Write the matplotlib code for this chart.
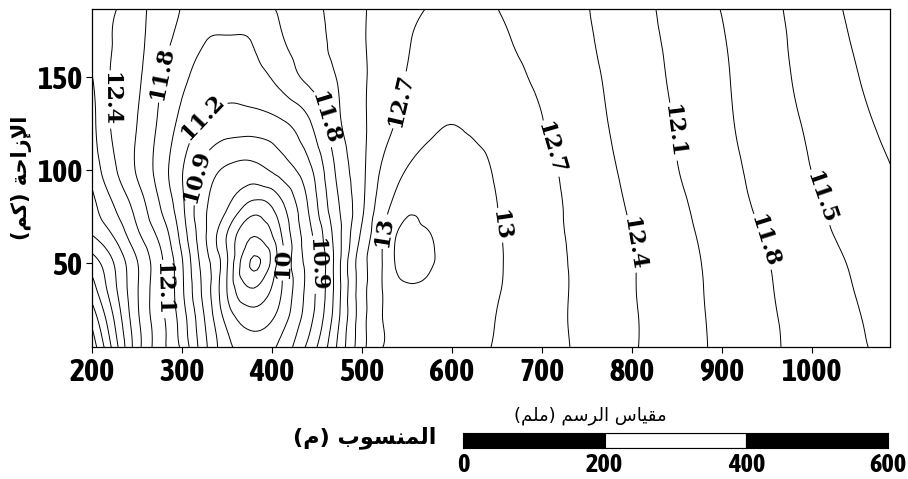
import numpy as np
import matplotlib
matplotlib.use("Agg")
import matplotlib.pyplot as plt
import matplotlib.tri as mtri

# ---------------- data ----------------
X_COLS = [200, 225, 250, 275, 300, 325, 350, 380, 410, 440, 470, 500, 525, 540,
          557, 575, 590, 625, 660, 700, 750, 800, 850, 900, 975, 1050, 1090]
Y_ROWS = [4, 20, 35, 50, 65, 80, 100, 125, 150, 170, 187]

Z_Y004 = [14.7, 13.77, 12.83, 12.23, 11.74, 10.99, 10.39, 10.22, 10.375, 10.98, 11.75, 12.6, 13.02, 13.08,
          13.1, 13.11, 13.12, 13.06, 12.94, 12.81, 12.63, 12.43, 12.23, 12.04, 11.77, 11.54, 11.42]
Z_Y020 = [14.4, 13.57, 12.77, 12.21, 11.65, 10.9, 10.2, 9.85, 10.14, 10.77, 11.62, 12.58, 13.02, 13.12,
          13.18, 13.17, 13.16, 13.08, 12.96, 12.81, 12.62, 12.43, 12.23, 12.03, 11.76, 11.52, 11.37]
Z_Y035 = [14.05, 13.38, 12.73, 12.18, 11.56, 10.8, 10.0, 9.45, 9.98, 10.7, 11.56, 12.58, 13.03, 13.2,
          13.26, 13.24, 13.2, 13.1, 12.98, 12.82, 12.62, 12.42, 12.22, 12.02, 11.74, 11.49, 11.35]
Z_Y050 = [13.75, 13.28, 12.72, 12.19, 11.53, 10.75, 10.03, 9.05, 9.9, 10.7, 11.56, 12.58, 13.05, 13.36,
          13.42, 13.33, 13.26, 13.12, 12.99, 12.82, 12.62, 12.42, 12.21, 12.01, 11.72, 11.46, 11.32]
Z_Y065 = [13.3, 12.96, 12.47, 12.03, 11.38, 10.65, 9.99, 9.42, 9.98, 10.78, 11.59, 12.46, 13.02, 13.33,
          13.38, 13.31, 13.22, 13.12, 12.98, 12.81, 12.6, 12.4, 12.19, 11.98, 11.68, 11.41, 11.27]
Z_Y080 = [13.1, 12.7, 12.29, 11.82, 11.27, 10.65, 10.32, 9.85, 10.2, 10.9, 11.69, 12.34, 12.92, 13.1,
          13.25, 13.22, 13.2, 13.1, 12.96, 12.8, 12.58, 12.37, 12.16, 11.94, 11.64, 11.37, 11.22]
Z_Y100 = [12.9, 12.44, 12.07, 11.68, 11.22, 10.8, 10.55, 10.5, 10.72, 11.1, 11.8, 12.33, 12.78, 12.94,
          13.05, 13.1, 13.12, 13.07, 12.93, 12.77, 12.55, 12.33, 12.11, 11.9, 11.59, 11.33, 11.2]
Z_Y125 = [12.8, 12.34, 12.1, 11.75, 11.41, 11.15, 11.05, 11.05, 11.15, 11.44, 11.98, 12.35, 12.61, 12.73,
          12.87, 12.95, 12.99, 12.96, 12.88, 12.71, 12.5, 12.29, 12.08, 11.86, 11.55, 11.27, 11.12]
Z_Y150 = [12.71, 12.35, 12.15, 11.83, 11.55, 11.42, 11.35, 11.4, 11.6, 11.87, 12.09, 12.36, 12.54, 12.65,
          12.75, 12.81, 12.85, 12.86, 12.78, 12.64, 12.46, 12.26, 12.05, 11.84, 11.51, 11.21, 11.06]
Z_Y170 = [12.6, 12.38, 12.18, 11.93, 11.7, 11.51, 11.48, 11.52, 11.77, 11.96, 12.16, 12.37, 12.52, 12.61,
          12.71, 12.77, 12.82, 12.82, 12.72, 12.59, 12.43, 12.23, 12.03, 11.82, 11.49, 11.17, 11.03]
Z_Y187 = [12.55, 12.42, 12.19, 11.98, 11.79, 11.7, 11.65, 11.7, 11.85, 12.01, 12.19, 12.37, 12.5, 12.57,
          12.65, 12.71, 12.75, 12.78, 12.67, 12.55, 12.41, 12.21, 12.01, 11.79, 11.47, 11.13, 10.98]

LEVEL_FIRST = 9.1
LEVEL_LAST = 14.5
LEVEL_STEP = 0.3

X_TICKS = [200, 300, 400, 500, 600, 700, 800, 900, 1000]
Y_TICKS = [50, 100, 150]
SCALE_TICKS = [0, 200, 400, 600]
SCALE_COLORS = ["black", "white", "black"]

Y_LABEL = "الإزاحة (كم)"
X_LABEL = "المنسوب (م)"
SCALE_TITLE = "مقياس الرسم (ملم)"

# label anchor points (data coords) for the contour labels
LABEL_SPOTS = [(218, 138), (276, 152), (326, 127), (312, 97), (276, 36),
               (412, 50), (447, 49), (453, 127), (539, 138), (523, 67),
               (650, 70), (707, 111), (798, 60), (853, 121), (937, 60), (1003, 84)]

# ---------------- Arabic shaping helper (display only) ----------------
FORMS = {
    '\u0627': ('\uFE8D', '\uFE8E', None, None),
    '\u0625': ('\uFE87', '\uFE88', None, None),
    '\u0632': ('\uFEAF', '\uFEB0', None, None),
    '\u0631': ('\uFEAD', '\uFEAE', None, None),
    '\u0648': ('\uFEED', '\uFEEE', None, None),
    '\u0629': ('\uFE93', '\uFE94', None, None),
    '\u062D': ('\uFEA1', '\uFEA2', '\uFEA3', '\uFEA4'),
    '\u0643': ('\uFED9', '\uFEDA', '\uFEDB', '\uFEDC'),
    '\u0645': ('\uFEE1', '\uFEE2', '\uFEE3', '\uFEE4'),
    '\u0646': ('\uFEE5', '\uFEE6', '\uFEE7', '\uFEE8'),
    '\u0633': ('\uFEB1', '\uFEB2', '\uFEB3', '\uFEB4'),
    '\u0628': ('\uFE8F', '\uFE90', '\uFE91', '\uFE92'),
    '\u0644': ('\uFEDD', '\uFEDE', '\uFEDF', '\uFEE0'),
    '\u0642': ('\uFED5', '\uFED6', '\uFED7', '\uFED8'),
    '\u064A': ('\uFEF1', '\uFEF2', '\uFEF3', '\uFEF4'),
}
LAM_ALEF = {'\u0627': ('\uFEFB', '\uFEFC'), '\u0625': ('\uFEF9', '\uFEFA'),
            '\u0623': ('\uFEF7', '\uFEF8'), '\u0622': ('\uFEF5', '\uFEF6')}


def shape(text):
    units = []
    i = 0
    while i < len(text):
        c = text[i]
        if c == '\u0644' and i + 1 < len(text) and text[i + 1] in LAM_ALEF:
            units.append(('LA', text[i + 1]))
            i += 2
            continue
        units.append(('C', c))
        i += 1

    def dual(u):
        return u[0] == 'C' and u[1] in FORMS and FORMS[u[1]][2] is not None

    def joining(u):
        return u[0] == 'LA' or u[1] in FORMS

    out = []
    for k, u in enumerate(units):
        prev = units[k - 1] if k > 0 else None
        nxt = units[k + 1] if k + 1 < len(units) else None
        jp = prev is not None and dual(prev) and joining(u)
        if u[0] == 'LA':
            out.append(LAM_ALEF[u[1]][1 if jp else 0])
            continue
        if u[1] not in FORMS:
            out.append(u[1])
            continue
        jn = dual(u) and nxt is not None and joining(nxt)
        iso, fin, ini, med = FORMS[u[1]]
        out.append(med if (jp and jn) else fin if jp else ini if jn else iso)
    mirror = {'(': ')', ')': '('}
    return ''.join(mirror.get(c, c) for c in reversed(out))


# ---------------- figure ----------------
W, H = 908, 479
fig = plt.figure(figsize=(W / 100, H / 100), dpi=100)
fig.patch.set_facecolor("white")

ax = fig.add_axes([92 / W, 1 - 347 / H, (890 - 92) / W, (347 - 9) / H])

Z = np.array([Z_Y004, Z_Y020, Z_Y035, Z_Y050, Z_Y065, Z_Y080, Z_Y100,
              Z_Y125, Z_Y150, Z_Y170, Z_Y187])
levels = np.round(np.arange(LEVEL_FIRST, LEVEL_LAST + 0.01, LEVEL_STEP), 1)

# grid -> triangulation (two triangles per cell), smoothed by matplotlib's refiner
XX, YY = np.meshgrid(np.array(X_COLS, float), np.array(Y_ROWS, float))
ny, nx = XX.shape
idx = np.arange(ny * nx).reshape(ny, nx)
a = idx[:-1, :-1].ravel()
b = idx[:-1, 1:].ravel()
c = idx[1:, 1:].ravel()
d = idx[1:, :-1].ravel()
triangles = np.concatenate([np.stack([a, b, c], 1), np.stack([a, c, d], 1)])
tri = mtri.Triangulation(XX.ravel(), YY.ravel(), triangles)
interp = mtri.CubicTriInterpolator(tri, Z.ravel(), kind="min_E")
tri_f, z_f = mtri.UniformTriRefiner(tri).refine_field(Z.ravel(), triinterpolator=interp, subdiv=3)

cs = ax.tricontour(tri_f, z_f, levels=levels, colors="black", linewidths=0.7)

with plt.rc_context({"font.family": ["DejaVu Serif"], "font.weight": "bold"}):
    texts = ax.clabel(cs, fmt="%g", fontsize=16, inline=True, inline_spacing=2,
                      manual=LABEL_SPOTS)
for t in texts:
    t.set_fontweight("bold")
    t.set_family(["DejaVu Serif"])

ax.set_xlim(200, 1087)
ax.set_ylim(4.8, 186.6)
ax.set_xticks(X_TICKS)
ax.set_yticks(Y_TICKS)
narrow = ["Asap Condensed", "Archivo Narrow", "Liberation Sans", "DejaVu Sans"]
ax.tick_params(direction="out", length=4, width=0.8, pad=3)
for lab in ax.get_xticklabels() + ax.get_yticklabels():
    lab.set_family(narrow)
    lab.set_fontweight("bold")
    lab.set_fontsize(23)
for sp in ax.spines.values():
    sp.set_linewidth(0.9)

# axis titles (Arabic)
fig.text(22 / W, 1 - 178 / H, shape(Y_LABEL), rotation=90, ha="center", va="center",
         fontsize=15, fontweight="bold", family=["DejaVu Sans"])
fig.text(365 / W, 1 - 438 / H, shape(X_LABEL), ha="center", va="center",
         fontsize=16, fontweight="bold", family=["DejaVu Sans"])
fig.text(590 / W, 1 - 416 / H, shape(SCALE_TITLE), ha="center", va="center",
         fontsize=13, family=["DejaVu Sans"])

# scale bar
sax = fig.add_axes([463 / W, 1 - 448 / H, (888 - 463) / W, 15 / H])
widths = np.diff(SCALE_TICKS)
sax.barh(0, widths, left=SCALE_TICKS[:-1], height=1.0, color=SCALE_COLORS,
         edgecolor="black", linewidth=0.8)
sax.set_xlim(SCALE_TICKS[0], SCALE_TICKS[-1])
sax.set_ylim(-0.5, 0.5)
sax.set_yticks([])
sax.set_xticks(SCALE_TICKS)
sax.tick_params(axis="x", length=0, pad=3)
for lab in sax.get_xticklabels():
    lab.set_family(narrow)
    lab.set_fontweight("bold")
    lab.set_fontsize(19)
for sp in sax.spines.values():
    sp.set_linewidth(0.8)

fig.savefig("out.png", dpi=100, facecolor="white")
